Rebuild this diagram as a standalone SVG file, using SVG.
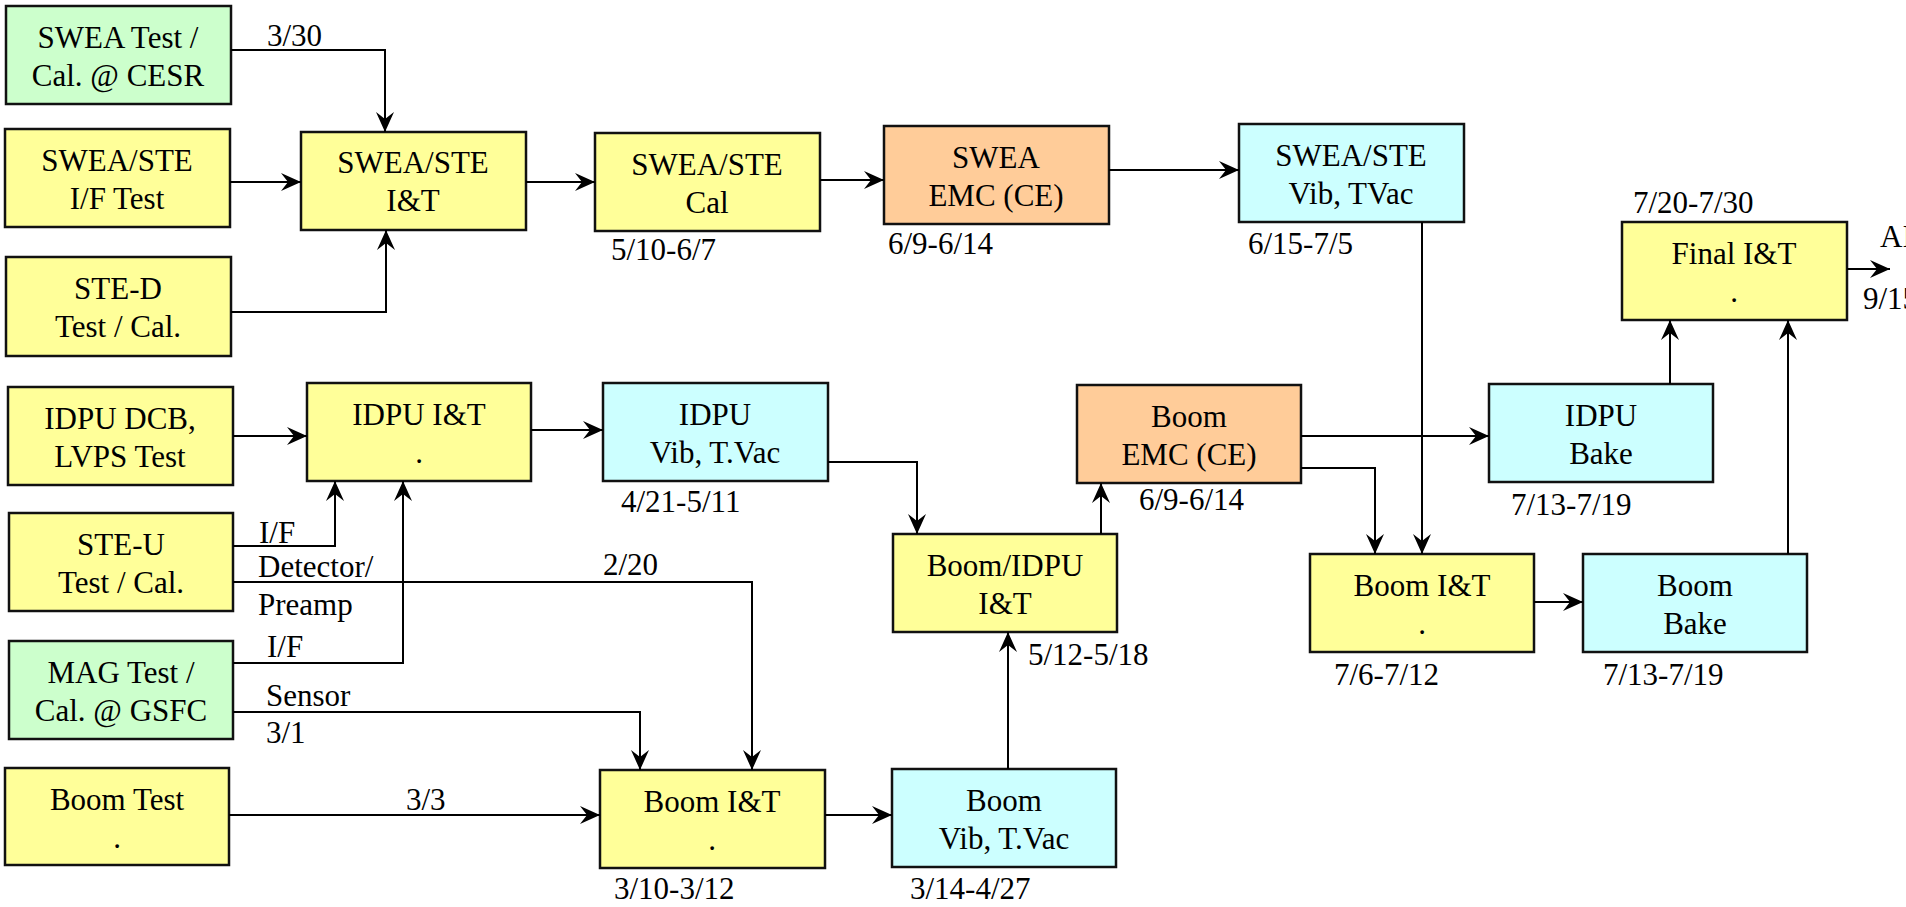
<svg xmlns="http://www.w3.org/2000/svg" width="1906" height="907" viewBox="0 0 1906 907">
<style>
.b{stroke:#111;stroke-width:2.5}
.y{fill:#FFFF99}.g{fill:#CCFFCC}.c{fill:#CCFFFF}.o{fill:#FFCC99}
text{font-family:"Liberation Serif","Times New Roman",serif;font-size:31px;fill:#000}
.m{text-anchor:middle}
.e path{fill:none;stroke:#000;stroke-width:2}
</style>
<defs>
<marker id="ah" markerUnits="userSpaceOnUse" markerWidth="22" markerHeight="20" refX="20" refY="10" orient="auto">
<path d="M0,1 L20,10 L0,19 L7,10 z" fill="#000"/>
</marker>
</defs>
<rect width="1906" height="907" fill="#fff"/>
<g id="n1"><rect class="b g" x="6" y="6" width="225" height="98"/><text class="m" x="118" y="48">SWEA Test /</text><text class="m" x="118" y="86">Cal. @ CESR</text></g>
<g id="n2"><rect class="b y" x="5" y="129" width="225" height="98"/><text class="m" x="117" y="171">SWEA/STE</text><text class="m" x="117" y="209">I/F Test</text></g>
<g id="n3"><rect class="b y" x="6" y="257" width="225" height="99"/><text class="m" x="118" y="299">STE-D</text><text class="m" x="118" y="337">Test / Cal.</text></g>
<g id="n4"><rect class="b y" x="301" y="132" width="225" height="98"/><text class="m" x="413" y="173">SWEA/STE</text><text class="m" x="413" y="211">I&amp;T</text></g>
<g id="n5"><rect class="b y" x="595" y="133" width="225" height="98"/><text class="m" x="707" y="175">SWEA/STE</text><text class="m" x="707" y="213">Cal</text><text x="611" y="260">5/10-6/7</text></g>
<g id="n6"><rect class="b o" x="884" y="126" width="225" height="98"/><text class="m" x="996" y="168">SWEA</text><text class="m" x="996" y="206">EMC (CE)</text><text x="888" y="254">6/9-6/14</text></g>
<g id="n7"><rect class="b c" x="1239" y="124" width="225" height="98"/><text class="m" x="1351" y="166">SWEA/STE</text><text class="m" x="1351" y="204">Vib, TVac</text><text x="1248" y="254">6/15-7/5</text></g>
<g id="n8"><rect class="b y" x="1622" y="222" width="225" height="98"/><text class="m" x="1734" y="264">Final I&amp;T</text><text class="m" x="1734" y="302">.</text><text x="1633" y="213">7/20-7/30</text></g>
<g id="n9"><rect class="b c" x="1489" y="384" width="224" height="98"/><text class="m" x="1601" y="426">IDPU</text><text class="m" x="1601" y="464">Bake</text><text x="1511" y="515">7/13-7/19</text></g>
<g id="n10"><rect class="b o" x="1077" y="385" width="224" height="98"/><text class="m" x="1189" y="427">Boom</text><text class="m" x="1189" y="465">EMC (CE)</text><text x="1139" y="510">6/9-6/14</text></g>
<g id="n11"><rect class="b y" x="1310" y="554" width="224" height="98"/><text class="m" x="1422" y="596">Boom I&amp;T</text><text class="m" x="1422" y="634">.</text><text x="1334" y="685">7/6-7/12</text></g>
<g id="n12"><rect class="b c" x="1583" y="554" width="224" height="98"/><text class="m" x="1695" y="596">Boom</text><text class="m" x="1695" y="634">Bake</text><text x="1603" y="685">7/13-7/19</text></g>
<g id="n13"><rect class="b y" x="8" y="387" width="225" height="98"/><text class="m" x="120" y="429">IDPU DCB,</text><text class="m" x="120" y="467">LVPS Test</text></g>
<g id="n14"><rect class="b y" x="307" y="383" width="224" height="98"/><text class="m" x="419" y="425">IDPU I&amp;T</text><text class="m" x="419" y="463">.</text></g>
<g id="n15"><rect class="b c" x="603" y="383" width="225" height="98"/><text class="m" x="715" y="425">IDPU</text><text class="m" x="715" y="463">Vib, T.Vac</text><text x="621" y="512">4/21-5/11</text></g>
<g id="n16"><rect class="b y" x="9" y="513" width="224" height="98"/><text class="m" x="121" y="555">STE-U</text><text class="m" x="121" y="593">Test / Cal.</text></g>
<g id="n17"><rect class="b g" x="9" y="641" width="224" height="98"/><text class="m" x="121" y="683">MAG Test /</text><text class="m" x="121" y="721">Cal. @ GSFC</text></g>
<g id="n18"><rect class="b y" x="5" y="768" width="224" height="97"/><text class="m" x="117" y="810">Boom Test</text><text class="m" x="117" y="848">.</text></g>
<g id="n19"><rect class="b y" x="893" y="534" width="224" height="98"/><text class="m" x="1005" y="576">Boom/IDPU</text><text class="m" x="1005" y="614">I&amp;T</text><text x="1028" y="665">5/12-5/18</text></g>
<g id="n20"><rect class="b y" x="600" y="770" width="225" height="98"/><text class="m" x="712" y="812">Boom I&amp;T</text><text class="m" x="712" y="850">.</text><text x="614" y="899">3/10-3/12</text></g>
<g id="n21"><rect class="b c" x="892" y="769" width="224" height="98"/><text class="m" x="1004" y="811">Boom</text><text class="m" x="1004" y="849">Vib, T.Vac</text><text x="910" y="899">3/14-4/27</text></g>
<g id="edges" class="e">
<path d="M231,50 H385 V132" marker-end="url(#ah)"/>
<path d="M230,182 H301" marker-end="url(#ah)"/>
<path d="M231,312 H386 V230" marker-end="url(#ah)"/>
<path d="M526,182 H595" marker-end="url(#ah)"/>
<path d="M820,180 H884" marker-end="url(#ah)"/>
<path d="M1109,170 H1239" marker-end="url(#ah)"/>
<path d="M1422,222 V554" marker-end="url(#ah)"/>
<path d="M1301,436 H1489" marker-end="url(#ah)"/>
<path d="M1301,468 H1375 V554" marker-end="url(#ah)"/>
<path d="M1670,384 V320" marker-end="url(#ah)"/>
<path d="M1788,554 V320" marker-end="url(#ah)"/>
<path d="M1847,269 H1890" marker-end="url(#ah)"/>
<path d="M1534,602 H1583" marker-end="url(#ah)"/>
<path d="M233,436 H307" marker-end="url(#ah)"/>
<path d="M233,546 H335 V481" marker-end="url(#ah)"/>
<path d="M233,582 H752 V770" marker-end="url(#ah)"/>
<path d="M233,663 H403 V481" marker-end="url(#ah)"/>
<path d="M233,712 H640 V770" marker-end="url(#ah)"/>
<path d="M229,815 H600" marker-end="url(#ah)"/>
<path d="M531,430 H603" marker-end="url(#ah)"/>
<path d="M828,462 H917 V534" marker-end="url(#ah)"/>
<path d="M1101,534 V483" marker-end="url(#ah)"/>
<path d="M825,815 H892" marker-end="url(#ah)"/>
<path d="M1008,769 V632" marker-end="url(#ah)"/>
<text x="267" y="46">3/30</text>
<text x="259" y="543">I/F</text>
<text x="258" y="577">Detector/</text>
<text x="258" y="615">Preamp</text>
<text x="603" y="575">2/20</text>
<text x="267" y="657">I/F</text>
<text x="266" y="706">Sensor</text>
<text x="266" y="743">3/1</text>
<text x="406" y="810">3/3</text>
<text x="1880" y="247">AI&amp;T</text>
<text x="1863" y="309">9/15</text>
</g>
</svg>
